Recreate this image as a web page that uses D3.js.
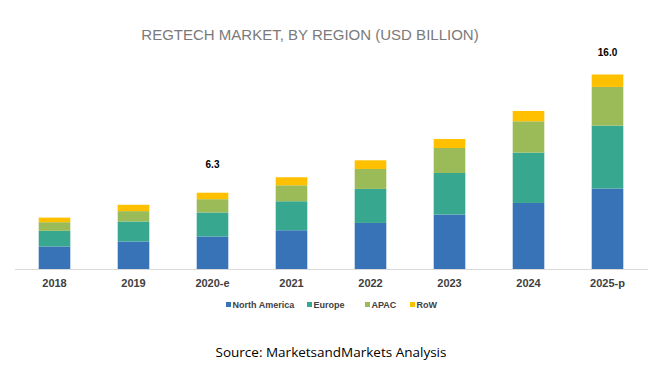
<!DOCTYPE html>
<html>
<head>
<meta charset="utf-8">
<script src="https://cdn.jsdelivr.net/npm/d3@7"></script>
<style>
	body { margin: 0; background: #fff; }
	svg { display: block; }
</style>
</head>
<body>
<div id="chart"></div>
<script>
// values (USD billion)
var years = ["2018", "2019", "2020-e", "2021", "2022", "2023", "2024", "2025-p"];
var regions = ["North America", "Europe", "APAC", "RoW"];
var northAmerica = [1.89, 2.30, 2.71, 3.22, 3.82, 4.51, 5.46, 6.64];
var europe = [1.28, 1.64, 1.97, 2.38, 2.79, 3.41, 4.13, 5.17];
var apac = [0.71, 0.85, 1.09, 1.31, 1.64, 2.05, 2.57, 3.17];
var row = [0.38, 0.52, 0.53, 0.66, 0.71, 0.74, 0.85, 1.02];
var totalLabels = [null, null, "6.3", null, null, null, null, "16.0"];
var colors = ["#3873b8", "#38a78f", "#9bbb59", "#ffc000"];

function buildTable() {
	var table = [];
	var i = 0;
	for (i; i < years.length; i++) {
		table.push({
			"year" : years[i],
			"North America" : northAmerica[i],
			"Europe" : europe[i],
			"APAC" : apac[i],
			"RoW" : row[i],
			"label" : totalLabels[i]
		});
	}
	return table;
}

function drawChart() {
	var width = 650, height = 368;
	var baseY = 269.5;
	var svg = d3.select("#chart").append("svg").attr("width", width)
			.attr("height", height);

	var data = buildTable();
	var stack = d3.stack().keys(regions)(data);

	var x = d3.scaleBand().domain(years).range([15, 647]).paddingInner(0.6)
			.paddingOuter(0.3);
	var y = d3.scaleLinear().domain([0, 16]).range([baseY, 74.5]);
	var color = d3.scaleOrdinal().domain(regions).range(colors);

	svg.append("text").attr("x", 310).attr("y", 40).attr("text-anchor",
			"middle").attr("fill", "#7a7a7a").style("font-family",
			"'Liberation Sans', Arial, sans-serif").style("font-size", "15px")
			.style("font-weight", "300").text(
					"REGTECH MARKET, BY REGION (USD BILLION)");

	svg.append("g").selectAll("g").data(stack).join("g").attr("fill",
			function(d) {
				return color(d.key);
			}).selectAll("rect").data(function(d) {
		return d;
	}).join("rect").attr("x", function(d) {
		return x(d.data.year);
	}).attr("y", function(d) {
		return y(d[1]);
	}).attr("height", function(d) {
		return y(d[0]) - y(d[1]);
	}).attr("width", x.bandwidth());

	// the total labels sit at slightly different heights in the original
	svg.append("g").selectAll("text").data(data.filter(function(d) {
		return d.label != null;
	})).join("text").attr("x", function(d) {
		return x(d.year) + x.bandwidth() / 2;
	}).attr("y", function(d) {
		var top = d["North America"] + d["Europe"] + d["APAC"] + d["RoW"];
		return y(top) - (top < 10 ? 25 : 19);
	}).attr("text-anchor", "middle").attr("fill", "#000").style(
			"font-family", "'Liberation Sans', Arial, sans-serif").style(
			"font-size", "10px").style("font-weight", "bold").text(
			function(d) {
				return d.label;
			});

	var axis = svg.append("g").attr("transform", "translate(0," + baseY + ")")
			.call(d3.axisBottom(x).tickSize(0).tickPadding(10));
	axis.select(".domain").attr("stroke", "#d9d9d9").attr("d", "M15,0H648");
	axis.selectAll("text").attr("fill", "#404040").style("font-family",
			"'Liberation Sans', Arial, sans-serif").style("font-size", "11px")
			.style("font-weight", "bold");

	var legendX = [226, 307, 365, 410];
	var legend = svg.append("g").selectAll("g").data(regions).join("g")
			.attr("transform", function(d, i) {
				return "translate(" + legendX[i] + ",308)";
			});
	legend.append("rect").attr("x", 0).attr("y", -6).attr("width", 5).attr(
			"height", 5).attr("fill", function(d) {
		return color(d);
	});
	legend.append("text").attr("x", 6.5).attr("y", 0).attr("fill", "#404040")
			.style("font-family", "'Liberation Sans', Arial, sans-serif")
			.style("font-size", "9px").style("font-weight", "bold").text(
					function(d) {
						return d;
					});

	svg.append("text").attr("x", 331).attr("y", 357).attr("text-anchor",
			"middle").attr("fill", "#000").style("font-family",
			"'Open Sans', sans-serif").style("font-size", "13.5px").text(
			"Source: MarketsandMarkets Analysis");
}

try {
	drawChart();
} catch (error) {
	console.log("Function :: drawChart Error: " + error);
}
</script>
</body>
</html>
